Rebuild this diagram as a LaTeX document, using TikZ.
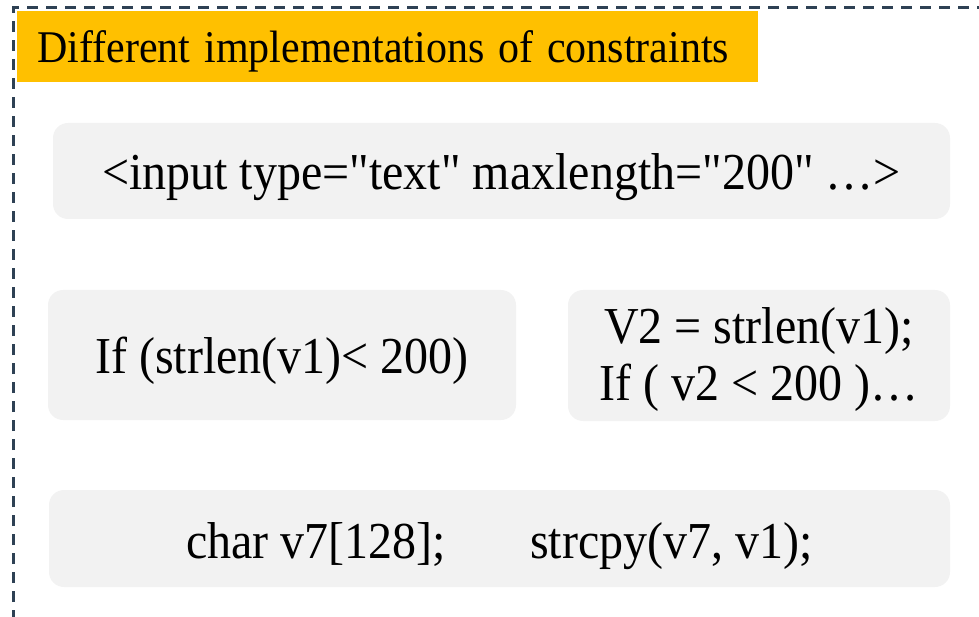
\documentclass[tikz,border=0pt]{standalone}
\usepackage{fontspec}
\newfontfamily\plainfont{Liberation Serif}
\definecolor{frameblue}{HTML}{2E4154}
\definecolor{titleorange}{HTML}{FFC000}
\definecolor{boxgray}{HTML}{F2F2F2}
\newcommand\vstretch[1]{\scalebox{1}[1.08]{#1}}
\tikzset{
  codebox/.style={fill=boxgray, rounded corners=15pt, inner sep=0pt,
    font=\plainfont\fontsize{48}{57}\selectfont, text depth=0pt},
  titlebox/.style={fill=titleorange, inner ysep=0pt, inner xsep=20pt, align=left,
    font=\plainfont\fontsize{42}{50}\selectfont, text height=31pt, text depth=0pt},
  frame/.style={draw=frameblue, line width=3pt, dash pattern=on 11pt off 8pt}
}
\begin{document}
\begin{tikzpicture}[x=1pt,y=-1pt]
\useasboundingbox (0,0) rectangle (979,617);
\draw[frame] (13,640) -- (13,8) -- (1000,8);
\node[titlebox, anchor=north west, minimum width=741pt, minimum height=71pt,
  text width=701pt] (title) at (17,11) {\vstretch{Different implementations of constraints}};
\node[codebox, minimum width=897pt, minimum height=96pt, text height=38pt] (html) at (501.5,171)
  {\vstretch{<input type="text" maxlength="200" …>}};
\node[codebox, minimum width=468pt, minimum height=130pt, text height=36pt] (ifa) at (282,355)
  {\vstretch{If (strlen(v1)< 200)}};
\node[codebox, minimum width=382pt, minimum height=131pt, text height=40pt, text depth=65pt] (ifb) at (759,355.5)
  {\begin{tabular}[t]{@{}c@{}}\vstretch{V2 = strlen(v1);}\\\vstretch{If ( v2 < 200 )…}\end{tabular}};
\node[codebox, minimum width=901pt, minimum height=97pt, text height=39pt] (cpy) at (499.5,538.5)
  {\vstretch{char v7[128];\hspace{84pt}strcpy(v7, v1);}};
\end{tikzpicture}
\end{document}
